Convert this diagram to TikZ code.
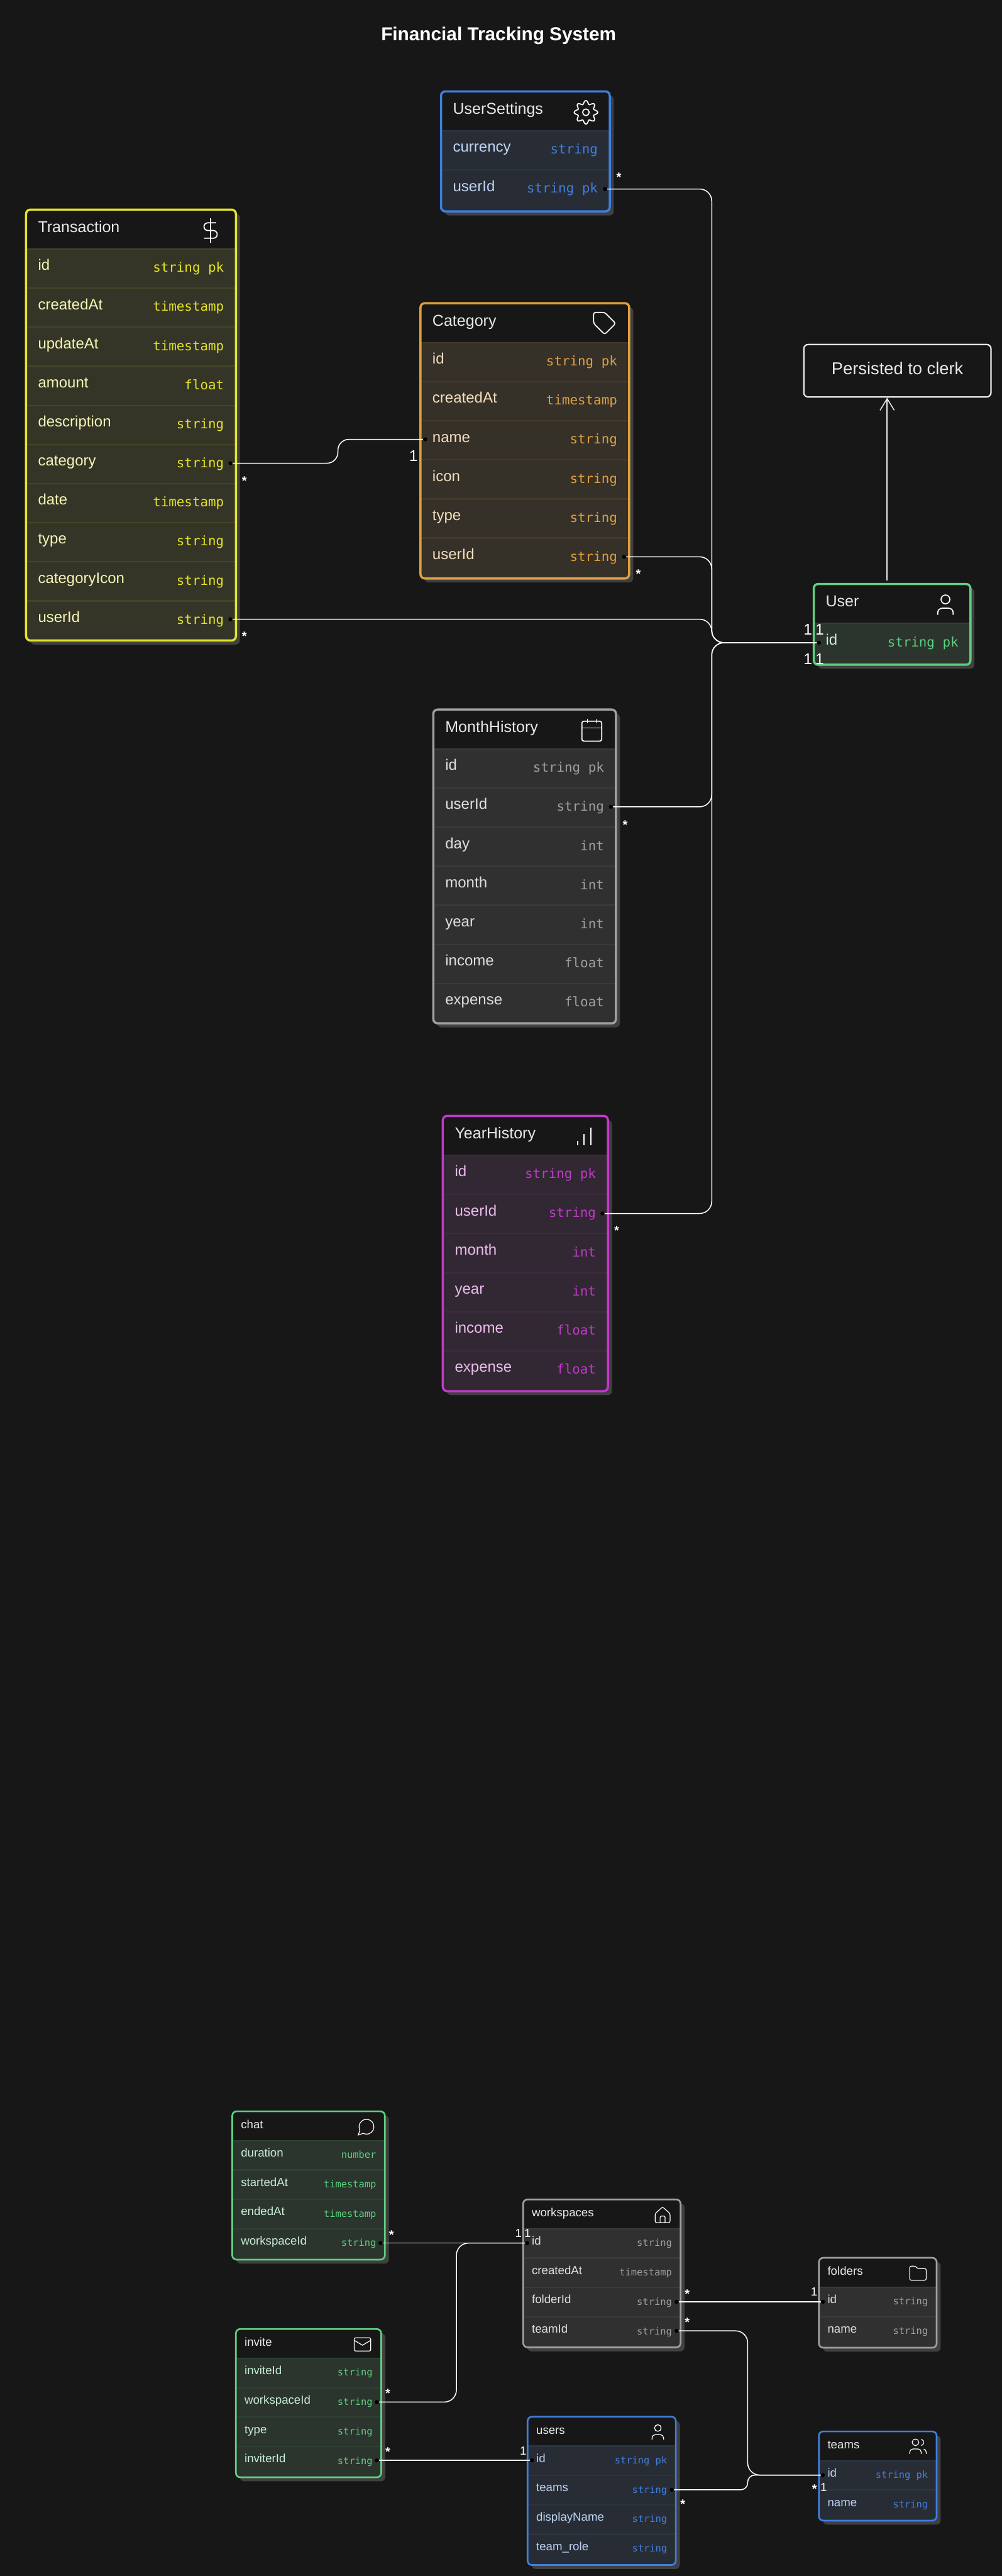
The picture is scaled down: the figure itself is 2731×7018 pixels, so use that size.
\documentclass[tikz,border=0pt]{standalone}
\usepackage{fontspec}
\setmainfont{Liberation Sans}
\setmonofont{DejaVu Sans Mono}
\usepackage{xcolor}
\usepackage{tikz}
\usetikzlibrary{arrows.meta,positioning}
\definecolor{bgc}{RGB}{23,23,23}
\definecolor{rowb}{RGB}{38,38,38}
\definecolor{shadc}{RGB}{64,64,64}
\definecolor{ylw}{RGB}{227,227,44}
\definecolor{org}{RGB}{224,160,64}
\definecolor{blu}{RGB}{63,127,223}
\definecolor{grn}{RGB}{95,208,128}
\definecolor{gry}{RGB}{160,160,160}
\definecolor{pur}{RGB}{192,58,200}
\definecolor{lite}{RGB}{232,232,232}
\newcommand{\sizebig}{\def\hh{107.5}\def\rh{106.5}\def\pad{32}\def\tbase{62}\def\nbase{58}\def\mbase{63}\def\blw{1.7pt}%
  \def\headf{\fontsize{12.2}{14}\selectfont}\def\namef{\fontsize{11.7}{14}\selectfont}\def\typef{\fontsize{10.15}{12}\ttfamily\selectfont}}
\newcommand{\sizesmall}{\def\hh{80}\def\rh{80}\def\pad{23}\def\tbase{47}\def\nbase{44}\def\mbase{48}\def\blw{1.3pt}%
  \def\headf{\fontsize{9.1}{11}\selectfont}\def\namef{\fontsize{9.1}{11}\selectfont}\def\typef{\fontsize{7.5}{9}\ttfamily\selectfont}}
% table: name, colour, left, top, right, bottom, size, title, rows
\newcommand{\ertable}[9]{%
  \csname size#7\endcsname
  \pgfmathsetmacro{\hb}{#4+\hh}
  \pgfmathsetmacro{\wcm}{(#5-#3)*0.01}
  \pgfmathsetmacro{\hcm}{(#6-#4)*0.01}
  \pgfmathsetmacro{\cx}{(#3+#5)/2}
  \pgfmathsetmacro{\cy}{(#4+#6)/2}
  \fill[shadc,rounded corners=3.4pt] (#3+11,#4+11) rectangle (#5+11,#6+11);
  \fill[bgc,rounded corners=3.4pt] (#3,#4) rectangle (#5,#6);
  \fill[#2!8!rowb] (#3,\hb) {[rounded corners=3.4pt] -- (#3,#6) -- (#5,#6)} -- (#5,\hb) -- cycle;
  \foreach \fname/\ftype [count=\ri] in {#9}{
    \pgfmathsetmacro{\rtop}{\hb+(\ri-1)*\rh}
    \draw[#2!16!rowb,line width=1.1pt] (#3,\rtop) -- (#5,\rtop);
    \node[anchor=base west,inner sep=0,font=\namef,text=#2!34!white] (#1n\ri) at (#3+\pad,\rtop+\nbase) {\fname};
    \node[anchor=base east,inner sep=0,font=\typef,text=#2] (#1t\ri) at (#5-\pad,\rtop+\mbase) {\ftype};
  }
  \node[tabbox,draw=#2,line width=\blw,minimum width=\wcm cm,minimum height=\hcm cm] (#1) at (\cx,\cy) {};
  \node[anchor=base west,inner sep=0,font=\headf,text=lite] (#1h) at (#3+\pad,#4+\tbase) {#8};
}
\tikzset{
  idollar/.pic={\begin{scope}[x=.03cm,y=.03cm]
    \draw (0,11) -- (0,-11);
    \draw (5,7) -- (-2.5,7) arc (90:270:3.5) -- (2.5,0) arc (90:-90:3.5) -- (-6,-7);
  \end{scope}},
  igear/.pic={\begin{scope}[x=.03cm,y=.03cm]
    \draw plot[smooth,domain=0:355,samples=72] (\x:{9.1+1.6*cos(8*\x)}) -- cycle;
    \draw (0,0) circle (3);
  \end{scope}},
  itag/.pic={\begin{scope}[x=.03cm,y=.03cm]
    \draw[rounded corners=1.6pt] (-10,10) -- (0,10) -- (10,0) -- (0,-10) -- (-10,0) -- cycle;
    \fill (-4.5,4.5) circle (.5);
  \end{scope}},
  icalendar/.pic={\begin{scope}[x=.03cm,y=.03cm]
    \draw[rounded corners=1.5pt] (-9,8) rectangle (9,-10);
    \draw (-4,10) -- (-4,6) (4,10) -- (4,6) (-9,2) -- (9,2);
  \end{scope}},
  ibars/.pic={\begin{scope}[x=.03cm,y=.03cm]
    \draw (0,-8) -- (0,2) (6,-8) -- (6,8) (-6,-8) -- (-6,-4);
  \end{scope}},
  iuser/.pic={\begin{scope}[x=.03cm,y=.03cm]
    \draw (0,5) circle (4);
    \draw (7,-9) -- (7,-7) arc (0:90:4) -- (-3,-3) arc (90:180:4) -- (-7,-9);
  \end{scope}},
  ichat/.pic={\begin{scope}[x=.03cm,y=.03cm]
    \draw (-4.1,-8) arc (-117:207:9) -- (-10,-10) -- cycle;
  \end{scope}},
  imail/.pic={\begin{scope}[x=.03cm,y=.03cm]
    \draw[rounded corners=1.2pt] (-10,8) rectangle (10,-8);
    \draw (10,5) -- (0,-1) -- (-10,5);
  \end{scope}},
  ihome/.pic={\begin{scope}[x=.03cm,y=.03cm]
    \draw[rounded corners=.8pt] (3,-9) -- (3,-1) -- (-3,-1) -- (-3,-9);
    \draw[rounded corners=1.2pt] (-9,2) -- (0,10) -- (9,2) -- (9,-9) -- (-9,-9) -- cycle;
  \end{scope}},
  ifolder/.pic={\begin{scope}[x=.03cm,y=.03cm]
    \draw[rounded corners=1.2pt] (-10,9) -- (-3,9) -- (-.5,6) -- (10,6) -- (10,-8) -- (-10,-8) -- cycle;
  \end{scope}},
  iusers/.pic={\begin{scope}[x=.03cm,y=.03cm]
    \draw (-3,5) circle (4);
    \draw (4,-9) -- (4,-7) arc (0:90:4) -- (-6,-3) arc (90:180:4) -- (-10,-9);
    \draw (10,-9) -- (10,-7) arc (0:75:4);
    \draw (4,8.87) arc (75:-75:4);
  \end{scope}}
}
\begin{document}
\begin{tikzpicture}[x=0.01cm,y=-0.01cm,
  tabbox/.style={rectangle,rounded corners=3.4pt,inner sep=0pt},
  rdot/.style={circle,fill=black,inner sep=0pt,minimum size=1.1mm},
  rel/.style={draw=white,line width=.75pt,rounded corners=3.3mm},
  many/.style={font=\fontsize{9.7}{11}\bfseries\selectfont,text=white,inner sep=0pt,anchor=base,yshift=-5.5pt},
  one/.style={font=\fontsize{12}{14}\selectfont,text=white,inner sep=0pt},
  ones/.style={font=\fontsize{9.1}{11}\selectfont,text=white,inner sep=0pt},
  icob/.style={draw=white,line width=.85pt,fill=none},
  icos/.style={draw=white,line width=.6pt,scale=.75}]
\fill[bgc] (0,0) rectangle (2731,7018);
\useasboundingbox (0,0) rectangle (2731,7018);
\node[font=\fontsize{14.5}{17}\bfseries\selectfont,text=white,inner sep=0pt] (title) at (1359,98) {Financial Tracking System};
% ---- UPPER: finance tables ----
\ertable{usettings}{blu}{1202}{249}{1662}{576}{big}{UserSettings}{currency/string,userId/string pk}
\ertable{transaction}{ylw}{71}{571}{643}{1745}{big}{Transaction}{id/string pk,createdAt/timestamp,updateAt/timestamp,amount/float,description/string,category/string,date/timestamp,type/string,categoryIcon/string,userId/string}
\ertable{category}{org}{1146}{826}{1715}{1576}{big}{Category}{id/string pk,createdAt/timestamp,name/string,icon/string,type/string,userId/string}
\ertable{user}{grn}{2218}{1591}{2645}{1811}{big}{User}{id/string pk}
\ertable{monthh}{gry}{1181}{1933}{1679}{2788}{big}{MonthHistory}{id/string pk,userId/string,day/int,month/int,year/int,income/float,expense/float}
\ertable{yearh}{pur}{1207}{3040}{1657}{3790}{big}{YearHistory}{id/string pk,userId/string,month/int,year/int,income/float,expense/float}
\node[tabbox,draw=lite,line width=1.1pt,minimum width=5.1cm,minimum height=1.43cm,text depth=4pt,font=\fontsize{13.3}{16}\selectfont,text=lite] (clerk) at (2446,1010) {Persisted to clerk};
\pic[icob] at (574,628) {idollar};
\pic[icob] at (1597,306) {igear};
\pic[icob] at (1648,881) {itag};
\pic[icob] at (1613,1989) {icalendar};
\pic[icob] at (1592,3096) {ibars};
\pic[icob] at (2577,1648) {iuser};
% ---- LOWER: workspace tables ----
\ertable{chat}{grn}{633}{5752}{1049}{6156}{small}{chat}{duration/number,startedAt/timestamp,endedAt/timestamp,workspaceId/string}
\ertable{invite}{grn}{643}{6345}{1039}{6749}{small}{invite}{inviteId/string,workspaceId/string,type/string,inviterId/string}
\ertable{workspaces}{gry}{1426}{5992}{1855}{6395}{small}{workspaces}{id/string,createdAt/timestamp,folderId/string,teamId/string}
\ertable{folders}{gry}{2232}{6151}{2553}{6396}{small}{folders}{id/string,name/string}
\ertable{users}{blu}{1438}{6584}{1842}{6988}{small}{users}{id/string pk,teams/string,displayName/string,team\_role/string}
\ertable{teams}{blu}{2232}{6624}{2553}{6867}{small}{teams}{id/string pk,name/string}
\pic[icos] at (999,5794) {ichat};
\pic[icos] at (988,6387) {imail};
\pic[icos] at (1806,6035) {ihome};
\pic[icos] at (2502,6194) {ifolder};
\pic[icos] at (1793,6626) {iuser};
\pic[icos] at (2502,6665) {iusers};
% ---- key dots ----
\node[rdot] (dUset) at (1649,515) {};
\node[rdot] (dCatUser) at (1701,1517) {};
\node[rdot] (dCatName) at (1159,1197) {};
\node[rdot] (dTrCat) at (628,1262) {};
\node[rdot] (dTrUser) at (628,1687) {};
\node[rdot] (dUserId) at (2232,1751) {};
\node[rdot] (dMonth) at (1665,2198) {};
\node[rdot] (dYear) at (1642,3306) {};
\node[rdot] (dChat) at (1037,6111) {};
\node[rdot] (dInvWs) at (1027,6544) {};
\node[rdot] (dInvUser) at (1027,6703) {};
\node[rdot] (dWsId) at (1437,6111) {};
\node[rdot] (dWsFolder) at (1844,6271) {};
\node[rdot] (dWsTeam) at (1844,6350) {};
\node[rdot] (dFolderId) at (2243,6271) {};
\node[rdot] (dUsersId) at (1450,6703) {};
\node[rdot] (dUsersTeams) at (1831,6783) {};
\node[rdot] (dTeamsId) at (2243,6743) {};
% ---- bend points ----
\coordinate (trunk) at (1940,1751);
\coordinate (catbend) at (921,1197);
\coordinate (wsbend) at (1244,6111);
\coordinate (teambend) at (2038,6743);
\coordinate (clerkfoot) at (2418,1581);
% ---- connectors ----
\draw[rel] (dUset) -| (trunk) -- (dUserId);
\draw[rel] (dCatUser) -| (trunk) -- (dUserId);
\draw[rel] (dTrUser) -| (trunk) -- (dUserId);
\draw[rel] (dMonth) -| (trunk) -- (dUserId);
\draw[rel] (dYear) -| (trunk) -- (dUserId);
\draw[rel,rounded corners=3mm] (dTrCat) -| (catbend) -- (dCatName);
\draw[draw=lite,line width=.75pt,-{Straight Barb[length=9pt,width=11pt]}] (clerkfoot) -- (clerkfoot |- clerk.south);
\draw[rel] (dChat) -- (dWsId);
\draw[rel] (dInvWs) -| (wsbend) -- (dWsId);
\draw[rel] (dInvUser) -- (dUsersId);
\draw[rel] (dWsFolder) -- (dFolderId);
\draw[rel] (dWsTeam) -| (teambend) -- (dTeamsId);
\draw[rel,rounded corners=1.9mm] (dUsersTeams) -| (teambend) -- (dTeamsId);
% ---- cardinality labels ----
\node[many] (m1) at (1687,475) {*};
\node[many] (m2) at (1740,1556) {*};
\node[many] (m3) at (666,1302) {*};
\node[many] (m4) at (666,1726) {*};
\node[many] (m5) at (1704,2239) {*};
\node[many] (m6) at (1681,3345) {*};
\node[one] (o1) at (1127,1242) {1};
\node[one] (o2) at (2202,1715) {1};
\node[one] (o3) at (2234,1715) {1};
\node[one] (o4) at (2202,1795) {1};
\node[one] (o5) at (2234,1795) {1};
\node[many] (m7) at (1067,6081) {*};
\node[many] (m8) at (1057,6513) {*};
\node[many] (m9) at (1057,6673) {*};
\node[many] (m10) at (1873,6242) {*};
\node[many] (m11) at (1873,6320) {*};
\node[many] (m12) at (1861,6814) {*};
\node[many] (m13) at (2220,6774) {*};
\node[ones] (o6) at (1413,6084) {1};
\node[ones] (o7) at (1438,6084) {1};
\node[ones] (o8) at (1426,6677) {1};
\node[ones] (o9) at (2219,6243) {1};
\node[ones] (o10) at (2245,6777) {1};
\end{tikzpicture}
\end{document}
